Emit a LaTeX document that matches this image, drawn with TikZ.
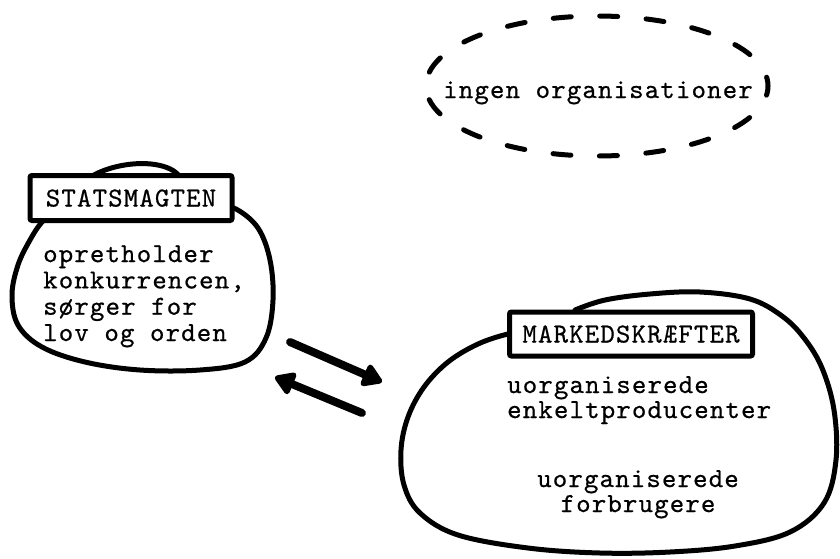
\documentclass[tikz,border=0pt]{standalone}
\usepackage{fontspec}
\newfontfamily\tw{lmmono10-regular}[Extension=.otf, LetterSpace=4.2, FakeBold=0.6]
\usetikzlibrary{shapes.geometric,arrows.meta}
\begin{document}
\begin{tikzpicture}[x=1pt,y=-1pt,
  outline/.style={line width=5pt, line cap=round, line join=round},
  labelbox/.style={draw, fill=white, line width=5pt, rounded corners=2pt, inner sep=0pt,
    text height=17pt, text depth=0pt, font={\tw\fontsize{27.5}{27.5}\selectfont}},
  bodytext/.style={inner sep=0pt, font={\tw\fontsize{27.5}{26.3}\selectfont}},
  bodytextb/.style={inner sep=0pt, font={\tw\fontsize{27.5}{25}\selectfont}},
  dashedoval/.style={draw, ellipse, line width=5pt, line cap=round,
    dash pattern=on 18pt off 28.5pt, dash phase=9pt, inner sep=0pt},
  bigarrow/.style={line width=8pt, line cap=round,
    -{Triangle[length=22pt,width=26pt,round]}},
]
\useasboundingbox (0,0) rectangle (840,558);

% dashed oval
\node[dashedoval, minimum width=342pt, minimum height=140pt] (org) at (597,86) {};
\node[bodytext, anchor=base] (orgtext) at (598,98) {ingen organisationer};

% left blob (Statsmagten)
\draw[outline] plot[smooth, tension=0.6] coordinates {(215,205) (236,209) (258,228) (270,260) (273,300) (266,338) (245,362) (200,370) (140,370) (85,362) (42,347) (18,325) (12,295) (18,265) (30,240) (42,222) (55,212)};
\draw[outline] (80,185) .. controls (105,160) and (170,155) .. (182,180);
\node[labelbox, minimum width=202pt, minimum height=45pt] (stat) at (131,198) {STATSMAGTEN};
\node[bodytext, anchor=base west, align=left] (stattext) at (43,341) {opretholder\\konkurrencen,\\sørger for\\lov og orden};

% right blob (Markedskræfter)
\draw[outline] plot[smooth, tension=0.6] coordinates {(525,333) (508,334) (478,344) (448,362) (424,387) (408,417) (401,450) (404,485) (420,513) (458,535) (528,548) (600,553) (670,552) (735,546) (790,532) (824,503) (836,460) (834,410) (822,368) (804,338) (782,316) (750,299) (700,292) (650,294) (605,300) (575,310)};
\node[labelbox, minimum width=243pt, minimum height=44pt] (mark) at (631,334) {MARKEDSKRÆFTER};
\node[bodytextb, anchor=base west, align=left] (prodtext) at (507,418) {uorganiserede\\enkeltproducenter};
\node[bodytextb, anchor=base, align=center] (forbtext) at (638,512) {uorganiserede\\forbrugere};

% arrows
\coordinate (a1s) at (290,342);
\coordinate (a1e) at (382,382);
\coordinate (a2s) at (362,413);
\coordinate (a2e) at (275,377);
\draw[bigarrow] (a1s) -- (a1e);
\draw[bigarrow] (a2s) -- (a2e);
\end{tikzpicture}
\end{document}
